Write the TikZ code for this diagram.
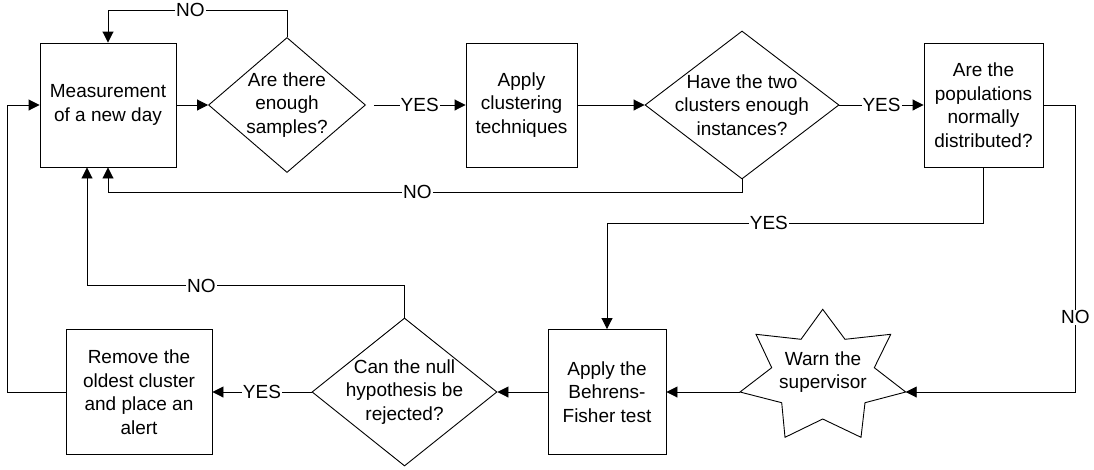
\documentclass[tikz,border=0pt]{standalone}
\usepackage{fontspec}
\setmainfont{Liberation Sans}
\usetikzlibrary{arrows.meta,shapes.geometric}
\begin{document}
\begin{tikzpicture}[x=1pt,y=-1pt,
  font=\fontsize{19}{23.5}\selectfont,
  line width=0.9pt,
  proc/.style={draw, rectangle, inner sep=0pt, align=center},
  dec/.style={draw, diamond, inner sep=0pt},
  txt/.style={align=center, inner sep=0pt},
  lbl/.style={fill=white, inner sep=1pt},
  arr/.style={-{Triangle[length=11pt,width=11pt]}}]
\useasboundingbox (0,0) rectangle (1094,469);

% nodes
\node[proc, minimum width=136pt, minimum height=124pt] (m1) at (108,105) {Measurement\\of a new day};
\node[dec, minimum width=157pt, minimum height=135pt] (d1) at (287,105) {};
\node[txt] (d1t) at (d1) {Are there\\enough\\samples?};
\node[proc, minimum width=111pt, minimum height=124pt] (b2) at (521.5,105) {Apply\\clustering\\techniques};
\node[dec, minimum width=194pt, minimum height=148pt] (d2) at (742,105) {};
\node[txt] (d2t) at (d2) {Have the two\\clusters enough\\instances?};
\node[proc, minimum width=119pt, minimum height=124pt] (b3) at (983.5,105) {Are the\\populations\\normally\\distributed?};

\draw (822.7,309.3) -- (845,339.3) -- (890.7,334.3) -- (874.3,367.7) -- (905.7,392) -- (865,402.7) -- (861,437.3) -- (822.7,419) -- (785,437.3) -- (781.7,402.7) -- (740,392) -- (771.7,367.7) -- (756,334.3) -- (801,339.3) -- cycle;
\coordinate (sR) at (905.7,392);
\coordinate (sL) at (740,392);
\node[txt] (st) at (823,372) {Warn the\\supervisor};

\node[proc, minimum width=118pt, minimum height=125pt] (b4) at (607,392) {Apply the\\Behrens-\\Fisher test};
\node[dec, minimum width=185pt, minimum height=148pt] (d3) at (404.5,392) {};
\node[txt] (d3t) at (d3) {Can the null\\hypothesis be\\rejected?};
\node[proc, minimum width=146pt, minimum height=125pt] (b5) at (139,392) {Remove the\\oldest cluster\\and place an\\alert};

% connectors
\draw[arr] (d1.north) -- ++(0,-27) -| node[lbl,pos=0.27]{NO} (m1.north);
\draw[arr] (m1.east) -- (d1.west);
\draw[arr] ([xshift=8pt]d1.east) -- node[lbl]{YES} (b2.west);
\draw[arr] (b2.east) -- (d2.west);
\draw[arr] (d2.east) -- node[lbl]{YES} (b3.west);
\draw[arr] (d2.south) -- ++(0,13) -| node[lbl,pos=0.256]{NO} (m1.south);
\draw[arr] (b3.south) -- ++(0,56) -| node[lbl,pos=0.285]{YES} (b4.north);
\draw[arr] (b3.east) -- ++(32,0) |- node[lbl,pos=0.37]{NO} (sR);
\draw[arr] (sL) -- (b4.east);
\draw[arr] (b4.west) -- (d3.east);
\draw[arr] (d3.west) -- node[lbl]{YES} (b5.east);
\draw[arr] (d3.north) -- ++(0,-32) -| node[lbl,pos=0.32]{NO} ([xshift=-21pt]m1.south);
\draw[arr] (b5.west) -- ++(-58,0) |- (m1.west);
\end{tikzpicture}
\end{document}
